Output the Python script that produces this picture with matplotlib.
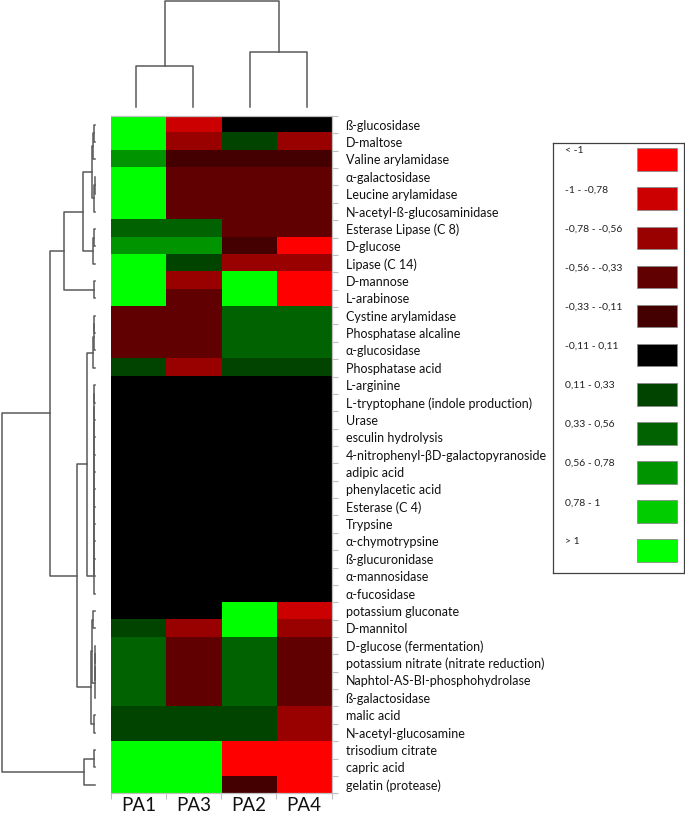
import matplotlib
matplotlib.use('Agg')
import numpy as np
import matplotlib.pyplot as plt
from matplotlib.colors import ListedColormap, BoundaryNorm
from matplotlib.patches import Rectangle

plt.rcParams['font.family'] = ['Lato', 'DejaVu Sans']

# Samples (column order after clustering)
samples = ['PA1', 'PA3', 'PA2', 'PA4']

# Tests (row order after clustering)
tests = [
    'ß-glucosidase', 'D-maltose', 'Valine arylamidase', 'α-galactosidase',
    'Leucine arylamidase', 'N-acetyl-ß-glucosaminidase', 'Esterase Lipase (C 8)',
    'D-glucose', 'Lipase (C 14)', 'D-mannose', 'L-arabinose', 'Cystine arylamidase',
    'Phosphatase alcaline', 'α-glucosidase', 'Phosphatase acid', 'L-arginine',
    'L-tryptophane (indole production)', 'Urase', 'esculin hydrolysis',
    '4-nitrophenyl-βD-galactopyranoside', 'adipic acid', 'phenylacetic acid',
    'Esterase (C 4)', 'Trypsine', 'α-chymotrypsine', 'ß-glucuronidase',
    'α-mannosidase', 'α-fucosidase', 'potassium gluconate', 'D-mannitol',
    'D-glucose (fermentation)', 'potassium nitrate (nitrate reduction)',
    'Naphtol-AS-BI-phosphohydrolase', 'ß-galactosidase', 'malic acid',
    'N-acetyl-glucosamine', 'trisodium citrate', 'capric acid', 'gelatin (protease)',
]

# Standardised values
pa1 = [1.2, 1.2, 0.67, 1.2, 1.2, 1.2, 0.45, 0.67, 1.2, 1.2, 1.2, -0.45, -0.45,
       -0.45, 0.22, 0, 0, 0, 0, 0, 0, 0, 0, 0, 0, 0, 0, 0, 0, 0.22, 0.45, 0.45,
       0.45, 0.45, 0.22, 0.22, 1.2, 1.2, 1.2]
pa3 = [-0.9, -0.67, -0.22, -0.45, -0.45, -0.45, 0.45, 0.67, 0.22, -0.67, -0.45,
       -0.45, -0.45, -0.45, -0.67, 0, 0, 0, 0, 0, 0, 0, 0, 0, 0, 0, 0, 0, 0,
       -0.67, -0.45, -0.45, -0.45, -0.45, 0.22, 0.22, 1.2, 1.2, 1.2]
pa2 = [0, 0.22, -0.22, -0.45, -0.45, -0.45, -0.45, -0.22, -0.67, 1.2, 1.2, 0.45,
       0.45, 0.45, 0.22, 0, 0, 0, 0, 0, 0, 0, 0, 0, 0, 0, 0, 0, 1.2, 1.2, 0.45,
       0.45, 0.45, 0.45, 0.22, 0.22, -1.2, -1.2, -0.22]
pa4 = [0, -0.67, -0.22, -0.45, -0.45, -0.45, -0.45, -1.2, -0.67, -1.2, -1.2, 0.45,
       0.45, 0.45, 0.22, 0, 0, 0, 0, 0, 0, 0, 0, 0, 0, 0, 0, 0, -0.9, -0.67,
       -0.45, -0.45, -0.45, -0.45, -0.67, -0.67, -1.2, -1.2, -1.2]

# Colour classes
level_labels = ['< -1', '-1 - -0,78', '-0,78 - -0,56', '-0,56 - -0,33',
                '-0,33 - -0,11', '-0,11 - 0,11', '0,11 - 0,33', '0,33 - 0,56',
                '0,56 - 0,78', '0,78 - 1', '> 1']
level_colors = ['#FF0000', '#CC0000', '#990000', '#600000', '#440000', '#000000',
                '#004400', '#006200', '#009400', '#00CC00', '#00FF00']
level_edges = [-10, -1, -0.78, -0.56, -0.33, -0.11, 0.11, 0.33, 0.56, 0.78, 1, 10]


def chain(first, last, h):
    node = first
    for i in range(first + 1, last + 1):
        node = (h, node, i)
    return node


# Row dendrogram: (height, left, right), leaves = row index
rows_1_6 = (2.8, (1.8, (0.8, 0, 1), 2), (0.8, (0.2, 3, 4), 5))
rows_7_9 = (1.8, (0.8, 6, 7), 8)
rows_1_11 = (31, (12, rows_1_6, rows_7_9), (0.8, 9, 10))
rows_12_15 = (2.2, (0.6, (0.6, 11, 12), 13), 14)
rows_12_28 = (8, rows_12_15, chain(15, 27, 0.6))
rows_29_36 = (4.3, (3.3, (1.7, 28, 29), chain(30, 33, 0.3)), (0.7, 34, 35))
rows_37_39 = (11, (1.0, 36, 37), 38)
row_tree = (93.3, (45, rows_1_11, (18, rows_12_28, rows_29_36)), rows_37_39)

# Column dendrogram
col_tree = (106, (41, 0, 1), (55, 2, 3))

W, H = 685, 819
fig = plt.figure(figsize=(W / 100, H / 100), dpi=100)
fig.patch.set_facecolor('white')


def px_axes(left, top, right, bottom):
    return fig.add_axes([left / W, 1 - bottom / H, (right - left) / W, (bottom - top) / H])


def draw_tree(ax, node, vertical):
    if isinstance(node, int):
        return node, 0
    h, a, b = node
    pa, ha = draw_tree(ax, a, vertical)
    pb, hb = draw_tree(ax, b, vertical)
    if vertical:
        ax.plot([pa, pa, pb, pb], [ha, h, h, hb], color='#5a5a5a', lw=1.1, clip_on=False)
    else:
        ax.plot([ha, h, h, hb], [pa, pa, pb, pb], color='#5a5a5a', lw=1.1, clip_on=False)
    return (pa + pb) / 2, h


# Heatmap
ax = px_axes(110.7, 116, 331.7, 793.3)
data = np.array([pa1, pa3, pa2, pa4]).T
cmap = ListedColormap(level_colors)
norm = BoundaryNorm(level_edges, cmap.N)
ax.imshow(data, aspect='auto', cmap=cmap, norm=norm, interpolation='nearest')

ax.set_xticks(np.arange(len(samples) + 1) - 0.5)
ax.set_xticklabels([])
ax.set_xticks(np.arange(len(samples)), minor=True)
ax.set_xticklabels(samples, minor=True, fontsize=13.5, color='#111111')
ax.tick_params(axis='x', which='major', length=4, color='#BFBFBF', direction='out')
ax.tick_params(axis='x', which='minor', length=0, pad=3)

ax.yaxis.tick_right()
ax.set_yticks(np.arange(len(tests) + 1) - 0.5)
ax.set_yticklabels([])
ax.set_yticks(np.arange(len(tests)), minor=True)
ax.set_yticklabels(tests, minor=True, fontsize=9, color='#111111')
ax.tick_params(axis='y', which='major', length=4, color='#BFBFBF', direction='out')
ax.tick_params(axis='y', which='minor', length=0, pad=10)
ax.set_xlim(-0.5, len(samples) - 0.5)
ax.set_ylim(len(tests) - 0.5, -0.5)
for side in ['top', 'right', 'bottom']:
    ax.spines[side].set_color('#BFBFBF')
    ax.spines[side].set_linewidth(0.9)
ax.spines['left'].set_visible(False)

# Row dendrogram
axr = px_axes(0, 116, 95, 793.3)
draw_tree(axr, row_tree, vertical=False)
axr.set_xlim(95, 0)
axr.set_ylim(len(tests) - 0.5, -0.5)
axr.axis('off')

# Column dendrogram
axc = px_axes(107.5, 0, 335.5, 107)
draw_tree(axc, col_tree, vertical=True)
axc.set_xlim(-0.5, len(samples) - 0.5)
axc.set_ylim(0, 107)
axc.axis('off')

# Colour legend box
axl = px_axes(552.7, 142.7, 684, 573)
axl.set_xlim(0, 131.3)
axl.set_ylim(430.3, 0)
axl.set_xticks([])
axl.set_yticks([])
for s in axl.spines.values():
    s.set_color('#404040')
    s.set_linewidth(0.9)
for i, (lab, col) in enumerate(zip(level_labels, level_colors)):
    top = 5.6 + 39.1 * i
    axl.add_patch(Rectangle((84.3, top), 40, 22.7, facecolor=col,
                            edgecolor='#8a8a8a', lw=0.6))
    axl.text(12.3, top - 2, lab, fontsize=7.5, va='top', ha='left', color='#222222')

fig.savefig('out.png', dpi=100, facecolor='white')
